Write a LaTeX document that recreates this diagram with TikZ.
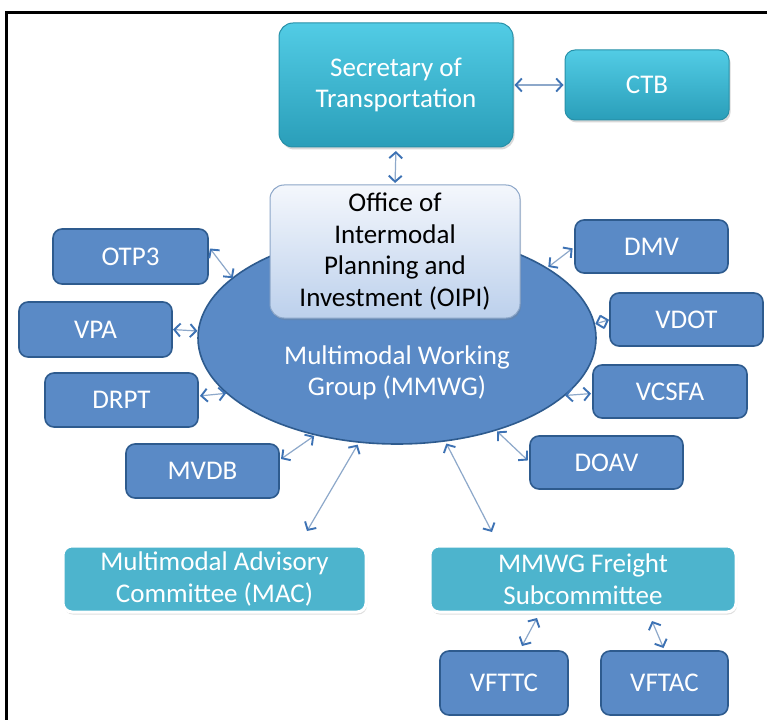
\documentclass[tikz,border=0pt]{standalone}
\usepackage{fontspec}
\setmainfont{Carlito}
\usetikzlibrary{arrows.meta,shapes.geometric,shadows,calc}
\definecolor{teal1}{HTML}{52CCE5}
\definecolor{teal2}{HTML}{2A9EB9}
\definecolor{tealdraw}{HTML}{2790A8}
\definecolor{boxblue}{HTML}{5A8AC6}
\definecolor{boxdraw}{HTML}{2E5B8E}
\definecolor{lightteal}{HTML}{4DB4CD}
\definecolor{oipitop}{HTML}{F4F7FC}
\definecolor{oipibot}{HTML}{BCD0EC}
\definecolor{oipidraw}{HTML}{8CA6C8}
\definecolor{linkline}{HTML}{8DA8CA}
\definecolor{linkhead}{HTML}{3D72B4}
\begin{document}
\begin{tikzpicture}[x=1pt,y=-1pt,
  every node/.style={font=\fontsize{27}{31.5}\selectfont, align=center, inner sep=0pt, outer sep=0pt},
  bluebox/.style={draw=boxdraw, line width=1.6pt, fill=boxblue, rounded corners=9pt, text=white,
    minimum width=153pt, minimum height=54pt},
  topbox/.style={draw=tealdraw, line width=1pt, top color=teal1, bottom color=teal2, rounded corners=14pt,
    text=white, drop shadow={shadow xshift=1.5pt, shadow yshift=-2.5pt, opacity=0.3}},
  subbox/.style={draw=white, line width=3pt, fill=lightteal, rounded corners=9pt, text=white,
    minimum width=306pt, minimum height=66pt,
    drop shadow={shadow xshift=1pt, shadow yshift=-2.5pt, opacity=0.25}},
  link/.style={draw=linkline, line width=1.2pt,
    >={Straight Barb[length=6pt,width=13pt,line width=1.9pt,color=linkhead]}, <->}
]
\useasboundingbox (0,0) rectangle (767,719);
\fill[white] (0,0) rectangle (767,719);
\draw[line width=3pt] (6,740) -- (6,13) -- (790,13);

% ellipse
\node[ellipse, draw=boxdraw, line width=1.6pt, fill=boxblue, minimum width=398pt, minimum height=212pt]
  (mmwg) at (397,338) {};
\node[text=white] (mmwgtext) at (397,373) {Multimodal Working\\Group (MMWG)};

% top boxes
\node[topbox, minimum width=234pt, minimum height=124pt] (sec) at (396,85) {Secretary of\\Transportation};
\node[topbox, rounded corners=10pt, minimum width=164pt, minimum height=70pt] (ctb) at (647,85) {CTB};
\node[draw=oipidraw, line width=1pt, top color=oipitop, bottom color=oipibot, rounded corners=14pt,
  minimum width=250pt, minimum height=133pt,
  drop shadow={shadow xshift=1pt, shadow yshift=-2pt, opacity=0.25}] (oipi) at (395,251.5)
  {Office of\\Intermodal\\Planning and\\Investment (OIPI)};

% blue boxes
\node[bluebox, minimum width=155pt, minimum height=55pt] (otp3) at (130.5,256.5) {OTP3};
\node[bluebox, minimum height=53pt] (dmv) at (651.5,246.5) {DMV};
\node[bluebox, minimum height=55pt] (vpa) at (95.5,329.5) {VPA};
\node[bluebox, minimum height=53pt] (vdot) at (686.5,319.5) {VDOT};
\node[bluebox] (drpt) at (121.5,400) {DRPT};
\node[bluebox, minimum width=154pt, minimum height=53pt] (vcsfa) at (670,391.5) {VCSFA};
\node[bluebox] (mvdb) at (202.5,471) {MVDB};
\node[bluebox, minimum height=53pt] (doav) at (606.5,462.5) {DOAV};
\node[subbox, minimum width=303pt] (mac) at (214.5,579) {Multimodal Advisory\\Committee (MAC)};
\node[subbox] (freight) at (583,579) {MMWG Freight\\Subcommittee};
\node[bluebox, minimum width=128pt, minimum height=64pt] (vfttc) at (504,683) {VFTTC};
\node[bluebox, minimum width=127pt, minimum height=64pt] (vftac) at (664.5,683) {VFTAC};

% connectors
\draw[link, shorten <=1.5pt, shorten >=1.5pt] (sec.east) -- (ctb.west);
\draw[link, shorten <=4pt, shorten >=2pt] (sec.south) -- (oipi.north);
\draw[link] ($(otp3.east)+(2,-8)$) -- (mmwg.160);
\draw[link, shorten <=2pt, shorten >=3pt] (mmwg.25) -- (dmv.west);
\draw[link, shorten <=1pt, shorten >=1pt] (vpa.east) -- (mmwg.178);
\draw[link, shorten <=1pt, shorten >=1pt] (mmwg.4.5) -- (vdot.west);
\draw[link, shorten <=1pt, shorten >=1pt] ($(drpt.east)+(1,-4)$) -- (mmwg.198);
\draw[link, shorten <=1pt, shorten >=1pt] (mmwg.341) -- ($(vcsfa.west)+(-1,2)$);
\draw[link, shorten <=2pt] (mmwg.230) -- ($(mvdb.north east)+(2,15)$);
\draw[link, shorten <=3pt] (mmwg.250.5) -- ($(mac.north east)+(-59,-15)$);
\draw[link, shorten <=3pt] (mmwg.295.7) -- ($(freight.north west)+(62,-14)$);
\draw[link, shorten <=2pt, shorten >=3pt] (mmwg.317.7) -- (doav.west);
\draw[link] ($(freight.south west)+(107,6)$) -- ($(vfttc.north)+(18,-5)$);
\draw[link] ($(freight.south west)+(222,9)$) -- ($(vftac.north)+(-1,-3)$);
\end{tikzpicture}
\end{document}
